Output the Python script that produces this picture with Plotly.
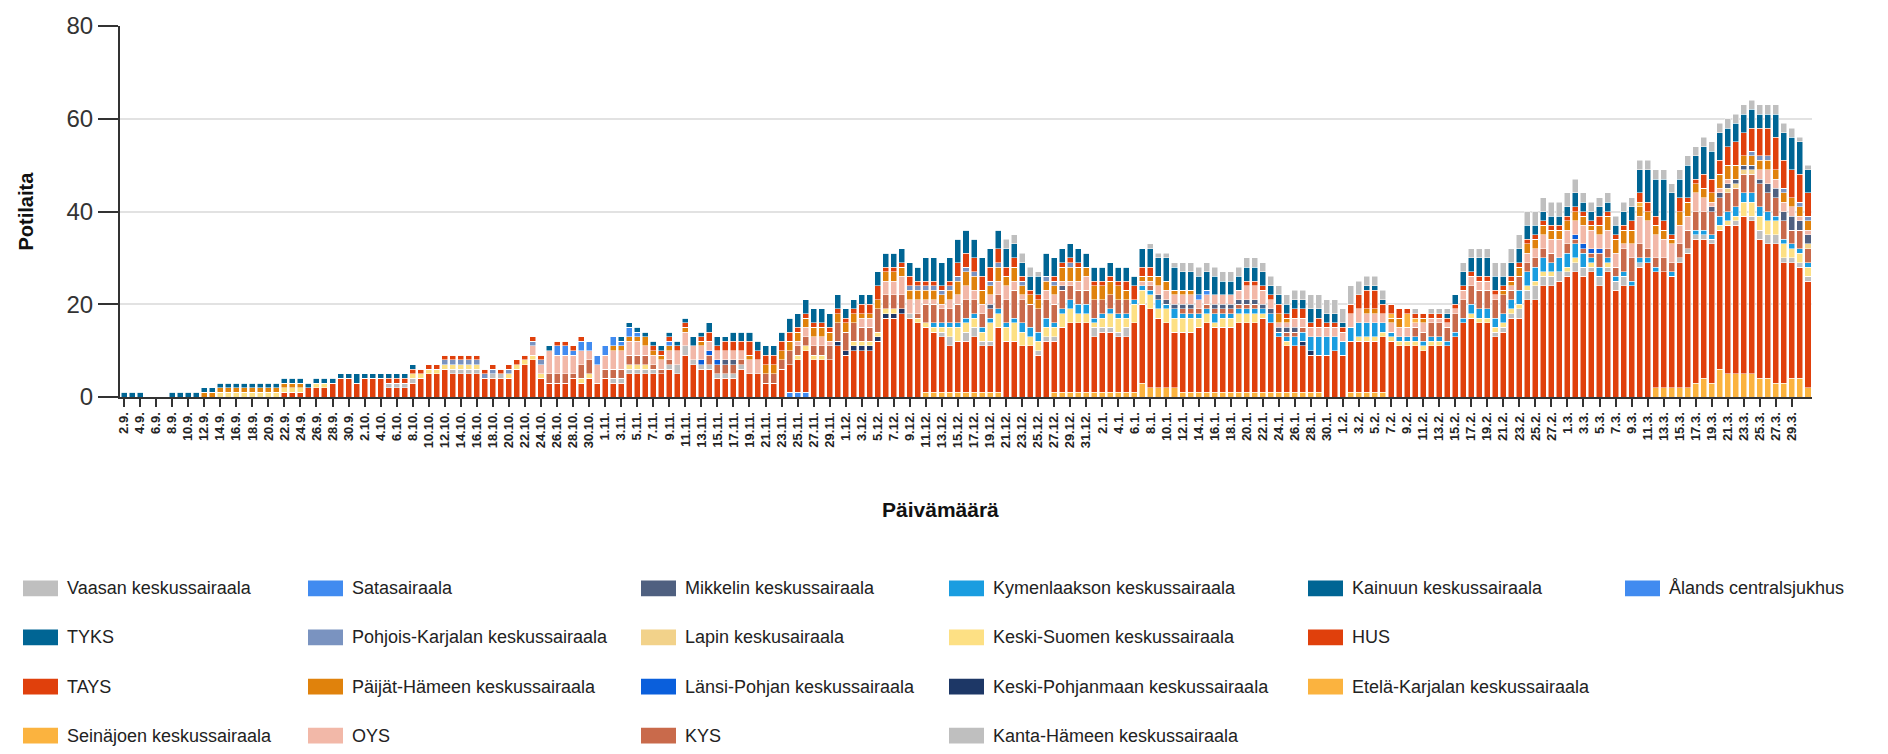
import pandas as pd
import plotly.graph_objects as go

# Daily categories 2.9.2020 - 31.3.2021
dates = pd.date_range("2020-09-02", "2021-03-31", freq="D")
days = [f"{d.day}.{d.month}." for d in dates]

# Patients per hospital per day (rows of ten days)
alands = [
    0,0,0,0,0,0,0,0,0,0, 0,0,0,0,0,0,0,0,0,0, 0,0,0,0,0,0,0,0,0,0,
    0,0,0,0,0,0,0,0,0,0, 0,0,0,0,0,0,0,0,0,0, 0,0,0,0,0,0,0,0,0,0,
    0,0,0,0,0,0,0,0,0,0, 0,0,0,0,0,0,0,0,0,0, 0,0,0,1,1,1,0,0,0,0,
    0,0,0,0,0,0,0,0,0,0, 0,0,0,0,0,0,0,0,0,0, 0,0,0,0,0,0,0,0,0,0,
    0,0,0,0,0,0,0,0,0,0, 0,0,0,0,0,0,0,0,0,0, 0,0,0,0,0,0,0,0,0,0,
    0,0,0,0,0,0,0,0,0,0, 0,0,0,0,0,0,0,0,0,0, 0,0,0,0,0,0,0,0,0,0,
    0,0,0,0,0,0,0,0,0,0, 0,0,0,0,0,0,0,0,0,0, 0,0,0,0,0,0,0,0,0,0,
    0]
etela_karjala = [
    0,0,0,0,0,0,0,0,0,0, 0,0,0,0,0,0,0,0,0,0, 0,0,0,0,0,0,0,0,0,0,
    0,0,0,0,0,0,0,0,0,0, 0,0,0,0,0,0,0,0,0,0, 0,0,0,0,0,0,0,0,0,0,
    0,0,0,0,0,0,0,0,0,0, 0,0,0,0,0,0,0,0,0,0, 0,0,0,0,0,0,0,0,0,0,
    0,0,0,0,0,0,0,0,0,0, 1,1,1,1,1,1,1,1,1,1, 0,0,0,0,0,0,1,1,1,1,
    1,1,1,1,1,1,1,3,2,2, 2,2,1,1,1,1,1,1,1,1, 1,1,1,1,1,1,1,1,1,1,
    0,0,0,1,1,1,1,1,0,0, 0,0,0,0,0,0,0,0,0,0, 0,0,0,0,0,0,0,0,0,0,
    0,0,0,0,0,0,0,0,0,0, 0,2,2,2,2,2,3,4,3,6, 5,5,5,5,4,4,3,3,4,4,
    2]
hus = [
    0,0,0,0,0,0,0,0,0,0, 0,0,0,0,0,0,0,0,0,0, 1,1,1,2,2,2,3,4,4,3,
    4,4,4,2,2,2,3,4,5,5, 6,5,5,5,5,4,4,4,4,6, 7,8,4,3,3,3,4,3,4,3,
    4,3,3,5,5,5,5,5,6,5, 9,7,6,6,4,4,4,6,5,5, 3,3,6,6,7,9,8,8,8,11,
    9,10,10,10,12,17,17,18,17,16, 14,13,12,10,11,11,12,10,10,14, 12,12,11,11,9,12,11,14,15,15,
    15,12,13,13,12,12,15,17,17,15, 14,12,13,13,14,15,14,14,14,15, 15,15,16,15,12,10,10,10,8,8,
    9,10,9,11,11,11,11,12,12,11, 11,11,10,11,11,11,13,16,17,16, 16,13,14,17,17,21,21,24,24,25,
    26,27,26,27,24,27,23,24,24,28, 29,25,25,24,27,29,31,30,30,30, 32,32,34,33,30,29,30,26,25,24,
    23]
kainuu = [
    0,0,0,0,0,0,0,0,0,0, 0,0,0,0,0,0,0,0,0,0, 0,0,0,0,0,0,0,0,0,0,
    0,0,0,0,0,0,0,0,0,0, 0,0,0,0,0,0,0,0,0,0, 0,0,0,0,0,0,0,0,0,0,
    0,0,0,0,0,0,0,0,0,0, 0,0,0,0,0,0,0,0,0,0, 0,0,0,0,0,0,0,0,0,0,
    0,0,0,0,0,0,0,0,0,0, 0,0,0,0,0,0,0,0,0,0, 0,0,0,0,0,0,0,0,0,0,
    0,0,0,0,0,0,0,0,0,0, 0,0,0,0,0,0,0,0,0,0, 0,0,0,0,0,0,0,0,0,0,
    0,0,0,0,0,0,0,0,0,0, 0,0,0,0,0,0,0,0,0,0, 0,0,0,0,0,0,0,0,0,0,
    0,0,0,0,0,0,0,0,0,0, 0,0,0,0,0,0,0,0,0,0, 0,0,0,0,0,0,0,0,0,0,
    0]
kanta_hame = [
    0,0,0,0,0,0,0,0,0,0, 0,0,0,0,0,0,0,0,0,0, 0,0,0,0,0,0,0,0,0,0,
    0,0,0,1,1,1,1,0,0,0, 0,1,1,1,1,0,1,1,0,0, 0,0,0,0,0,0,0,0,0,0,
    0,1,1,1,1,1,1,0,1,2, 2,1,1,1,1,1,1,1,0,0, 0,0,0,0,0,0,0,0,0,0,
    0,0,0,0,0,0,0,0,1,0, 0,0,1,2,0,2,2,1,1,0, 0,0,0,0,1,1,1,0,0,0,
    0,2,1,1,1,2,0,0,0,0, 0,0,0,0,0,0,0,0,0,0, 0,0,0,0,0,0,0,0,0,0,
    0,0,0,0,0,0,0,0,0,0, 0,0,0,0,0,0,0,0,0,0, 0,1,1,1,2,2,3,2,2,2,
    1,2,2,1,2,1,2,2,0,1, 0,0,0,0,1,1,1,1,1,0, 0,1,0,1,2,2,2,1,1,1,
    1]
keski_pohjanmaa = [
    0,0,0,0,0,0,0,0,0,0, 0,0,0,0,0,0,0,0,0,0, 0,0,0,0,0,0,0,0,0,0,
    0,0,0,0,0,0,0,0,0,0, 0,0,0,0,0,0,0,0,0,0, 0,0,0,0,0,0,0,0,0,0,
    0,0,0,0,0,0,0,0,0,0, 0,0,0,0,0,0,0,0,0,0, 0,0,0,0,0,0,0,0,0,1,
    1,1,1,1,1,1,1,1,0,0, 0,0,0,0,0,0,0,0,0,0, 0,0,0,0,0,0,0,0,0,0,
    0,0,0,0,0,0,0,0,0,0, 0,0,0,0,0,0,0,0,0,0, 0,0,0,0,0,0,0,1,1,0,
    0,0,0,0,0,0,0,0,0,0, 0,0,0,0,0,0,0,0,0,0, 0,0,0,0,0,0,0,0,0,0,
    0,0,0,0,0,0,0,0,0,0, 0,0,0,0,0,0,0,0,0,0, 0,0,0,0,0,0,0,0,0,0,
    0]
keski_suomi = [
    0,0,0,0,0,0,0,0,0,0, 0,0,1,1,1,1,1,1,1,1, 1,1,1,0,1,1,0,0,0,0,
    0,0,0,0,0,0,1,1,1,1, 1,1,1,1,1,0,0,0,1,1, 1,1,1,0,0,0,0,1,1,0,
    0,0,0,1,1,1,0,0,0,0, 0,0,0,0,0,0,0,0,0,0, 0,0,0,0,1,1,1,1,0,0,
    0,1,1,1,1,1,1,0,0,1, 1,1,1,2,3,2,2,2,4,3, 3,4,3,2,2,2,2,3,3,2,
    2,1,2,3,3,2,4,3,3,2, 3,3,3,3,2,2,1,2,2,2, 2,2,1,0,0,1,0,0,0,0,
    0,0,0,0,1,1,1,1,1,1, 1,1,1,1,1,0,0,0,1,1, 1,1,1,1,1,1,1,1,1,0,
    1,1,0,1,0,1,0,0,0,0, 0,0,0,0,0,0,0,0,0,1, 1,1,3,3,3,3,3,3,2,2,
    2]
kymenlaakso = [
    0,0,0,0,0,0,0,0,0,0, 0,0,0,0,0,0,0,0,0,0, 0,0,0,0,0,0,0,0,0,0,
    0,0,0,0,0,0,0,0,0,0, 0,0,0,0,0,0,0,0,0,0, 0,0,0,0,0,0,0,0,0,0,
    0,0,0,0,0,0,0,0,0,0, 0,0,0,0,0,0,0,0,0,0, 0,0,0,0,0,0,0,0,0,0,
    0,0,0,0,0,0,0,0,0,0, 0,1,1,1,1,1,1,1,1,1, 1,1,2,2,2,2,1,1,2,2,
    2,1,1,1,1,1,1,1,1,2, 1,2,1,1,1,1,2,1,1,1, 1,1,1,2,1,1,2,2,3,4,
    4,3,3,3,3,3,3,2,1,1, 1,1,1,1,1,1,1,1,2,2, 2,2,2,2,3,3,3,3,2,3,
    3,3,3,1,2,1,1,1,1,1, 1,1,0,1,0,0,1,1,1,2, 2,2,2,2,2,2,1,1,1,1,
    1]
kys = [
    0,0,0,0,0,0,0,0,0,0, 0,0,0,0,0,0,0,0,0,0, 0,0,0,0,0,0,0,0,0,0,
    0,0,0,0,0,0,0,0,0,0, 0,0,0,0,0,0,0,0,0,0, 0,0,0,2,2,2,1,3,3,0,
    2,2,2,2,2,2,1,1,1,0, 0,0,0,2,2,2,2,1,0,0, 2,2,2,3,2,2,2,2,3,4,
    4,4,3,3,5,3,3,3,0,1, 4,4,3,3,4,4,3,3,2,3, 5,6,5,5,5,4,4,4,3,3,
    3,4,3,3,3,3,0,0,1,0, 0,0,1,1,1,1,1,1,1,1, 1,1,0,0,0,1,1,1,0,0,
    0,0,0,0,0,0,0,0,0,0, 0,2,2,3,3,3,4,4,4,4, 4,4,4,2,3,2,2,2,2,0,
    2,1,1,1,3,2,2,5,5,3, 2,2,3,2,3,4,4,4,5,4, 4,4,4,4,5,4,4,4,3,4,
    3]
lansi_pohja = [
    0,0,0,0,0,0,0,0,0,0, 0,0,0,0,0,0,0,0,0,0, 0,0,0,0,0,0,0,0,0,0,
    0,0,0,0,0,0,0,0,0,0, 0,0,0,0,0,0,0,0,0,0, 0,0,0,0,0,0,0,0,0,0,
    0,0,0,0,0,0,0,0,0,0, 0,0,1,1,1,0,0,0,0,0, 0,0,0,0,0,0,0,0,0,0,
    0,0,0,0,0,0,0,0,0,0, 0,0,0,0,0,0,0,0,0,0, 0,0,0,0,0,0,0,0,0,0,
    0,0,0,0,0,0,0,0,0,0, 0,0,0,0,0,0,0,0,0,0, 0,0,0,0,0,0,0,0,0,0,
    0,0,0,0,0,0,0,0,0,0, 0,0,0,0,0,0,0,0,0,0, 0,0,0,0,0,0,0,0,0,0,
    0,1,1,1,1,0,0,0,0,0, 0,0,0,0,0,0,0,0,0,0, 0,0,0,0,0,0,0,0,0,0,
    0]
lappi = [
    0,0,0,0,0,0,0,0,0,0, 0,0,0,0,0,0,0,0,0,0, 0,0,0,0,0,0,0,0,0,0,
    0,0,0,0,0,0,0,0,0,0, 0,0,0,0,0,0,0,0,0,0, 0,0,0,0,0,0,0,0,0,0,
    0,0,0,0,0,0,0,0,0,0, 0,0,0,0,0,0,0,0,0,0, 0,0,0,0,0,0,0,0,0,0,
    0,0,0,0,0,0,0,0,0,0, 0,0,0,0,0,0,0,0,0,0, 0,0,0,0,0,0,0,0,0,0,
    0,0,0,0,0,0,0,0,0,0, 0,0,0,0,0,0,0,0,0,0, 0,0,0,0,0,0,0,0,0,0,
    0,0,0,0,0,0,0,0,0,0, 0,0,0,0,0,0,0,0,0,0, 0,0,0,0,0,0,0,0,0,0,
    0,0,0,0,0,0,0,0,0,0, 0,0,0,0,0,0,0,0,0,0, 1,1,1,1,0,0,0,0,0,0,
    1]
mikkeli = [
    0,0,0,0,0,0,0,0,0,0, 0,0,0,0,0,0,0,0,0,0, 0,0,0,0,0,0,0,0,0,0,
    0,0,0,0,0,0,0,0,0,0, 0,0,0,0,0,0,0,0,0,0, 0,0,0,0,0,0,0,0,0,0,
    0,0,0,0,0,0,0,0,0,0, 0,0,0,0,0,1,1,0,0,0, 0,0,0,0,0,0,0,0,0,0,
    0,0,0,0,0,0,0,0,0,0, 0,0,0,0,0,0,0,0,1,0, 0,0,0,0,0,0,0,1,0,0,
    0,0,0,0,0,0,0,0,0,1, 1,1,1,1,0,0,1,1,1,1, 1,1,1,1,1,1,1,0,0,0,
    0,0,0,0,0,0,0,0,0,0, 0,0,0,0,0,0,0,0,0,0, 0,0,0,0,0,0,0,0,0,0,
    0,0,0,0,0,0,0,0,0,0, 0,0,0,0,0,0,0,0,1,1, 1,1,1,1,1,2,2,2,3,2,
    2]
oys = [
    0,0,0,0,0,0,0,0,0,0, 0,0,0,0,0,0,0,0,0,0, 0,0,0,0,0,0,0,0,0,0,
    0,0,0,0,0,0,0,0,0,0, 0,0,0,0,0,0,0,0,0,0, 0,2,2,5,4,4,4,3,2,4,
    3,4,4,3,3,2,2,2,2,3, 3,3,3,2,2,2,2,2,3,3, 0,0,0,0,1,2,2,2,1,0,
    0,0,2,2,0,3,3,4,3,3, 1,1,1,2,2,3,2,2,2,3, 3,2,1,0,0,2,2,1,1,2,
    3,0,0,0,0,0,0,1,1,2, 2,2,2,2,2,2,2,2,2,2, 3,3,3,2,1,1,2,2,2,2,
    2,2,2,3,3,2,2,2,2,2, 2,1,2,1,1,1,1,2,2,2, 2,1,0,1,0,2,2,3,3,4,
    3,3,4,4,3,4,3,1,3,6, 6,5,4,4,4,3,4,3,1,1, 1,0,0,0,2,3,2,2,2,1,
    1]
paijat_hame = [
    0,0,0,0,0,0,0,0,0,0, 1,1,1,1,1,1,1,1,1,1, 1,1,1,0,0,0,0,0,0,0,
    0,0,0,0,0,0,0,0,0,0, 0,0,0,0,0,0,0,0,0,0, 0,0,0,0,0,0,0,0,0,0,
    0,1,1,1,1,2,1,1,1,0, 1,0,1,0,0,0,0,0,1,0, 2,2,2,2,2,2,2,2,2,2,
    2,2,1,1,2,2,2,2,2,2, 2,2,2,2,3,3,3,3,2,3, 2,3,2,2,2,2,2,3,3,3,
    2,3,3,3,3,2,0,1,1,2, 2,1,1,1,0,0,0,0,0,0, 0,0,0,0,2,1,0,0,0,0,
    0,0,0,0,0,1,1,0,1,2, 0,0,1,0,0,0,0,0,0,0, 0,0,1,1,2,2,2,2,2,2,
    2,2,2,1,2,3,3,3,3,2, 2,2,2,1,3,3,2,2,2,3, 3,3,2,2,2,2,2,2,2,2,
    2]
pohjois_karjala = [
    0,0,0,0,0,0,0,0,0,0, 0,0,0,0,0,0,0,0,0,0, 0,0,0,0,0,0,0,0,0,0,
    0,0,0,0,0,0,0,0,0,0, 1,1,1,1,1,1,1,0,1,0, 0,1,1,0,0,0,0,0,0,0,
    0,0,0,0,0,0,0,0,0,0, 0,0,0,0,0,0,0,0,0,0, 0,0,0,0,0,0,0,0,0,0,
    0,0,0,0,0,0,0,0,1,1, 1,1,1,1,1,1,1,0,1,1, 0,0,1,0,0,1,1,0,1,0,
    0,0,0,0,0,0,0,0,0,0, 0,0,0,0,0,0,0,0,0,0, 0,0,0,0,0,0,0,0,0,0,
    0,0,0,0,0,0,0,0,0,0, 0,0,0,0,0,0,0,0,0,0, 0,0,0,0,0,0,0,0,0,0,
    0,0,0,0,0,0,0,0,0,0, 0,0,0,0,0,0,0,0,0,0, 0,0,0,1,1,1,0,1,0,1,
    1]
satasairaala = [
    0,0,0,0,0,0,0,0,0,0, 0,0,0,0,0,0,0,0,0,0, 0,0,0,0,0,0,0,0,0,0,
    0,0,0,0,0,0,0,0,0,0, 0,0,0,0,0,0,0,0,0,0, 0,0,0,0,2,2,1,2,2,2,
    2,2,1,2,1,0,0,0,1,0, 0,0,0,0,0,0,0,0,0,0, 0,0,0,0,0,0,0,0,0,0,
    0,0,0,0,0,0,0,0,0,0, 0,0,0,0,0,0,0,0,0,0, 0,0,0,0,0,0,0,0,0,0,
    0,0,0,0,0,0,0,0,0,0, 0,0,0,0,1,1,0,0,0,0, 0,0,0,0,0,0,0,0,0,0,
    0,0,0,0,0,0,0,0,0,0, 0,0,0,0,0,0,0,0,0,0, 0,0,0,0,0,0,0,0,0,0,
    0,0,0,0,0,0,0,0,0,0, 0,0,0,0,0,0,0,0,0,0, 0,0,0,0,0,0,0,0,0,0,
    0]
seinajoki = [
    0,0,0,0,0,0,0,0,0,0, 0,0,0,0,0,0,0,0,0,0, 0,0,0,0,0,0,0,0,0,0,
    0,0,0,0,0,0,0,0,0,0, 0,0,0,0,0,0,0,0,0,0, 0,0,0,0,0,0,0,0,0,0,
    0,0,0,0,0,0,0,0,0,0, 0,0,0,0,0,0,0,0,0,0, 0,0,0,0,0,0,0,0,0,0,
    0,0,0,0,0,0,0,0,0,0, 0,0,0,0,0,0,0,0,0,0, 0,0,0,0,0,0,0,0,0,0,
    0,0,0,0,0,0,0,0,0,0, 0,0,0,0,0,0,0,0,0,0, 0,0,0,0,0,0,0,0,0,0,
    0,0,0,0,0,0,0,0,1,0, 3,1,0,0,0,0,0,0,0,0, 0,0,0,0,0,0,0,0,0,0,
    0,0,0,0,0,0,0,0,0,1, 0,0,0,0,0,0,0,0,0,0, 0,0,0,0,0,0,0,0,0,0,
    0]
tays = [
    0,0,0,0,0,0,0,0,0,0, 0,0,0,0,0,0,0,0,0,0, 0,0,0,0,0,0,0,0,0,0,
    0,0,0,1,1,1,1,1,1,1, 1,1,1,1,1,1,1,1,1,1, 1,1,1,0,1,1,1,1,0,0,
    0,0,0,0,0,0,1,1,1,1, 1,0,1,2,1,2,2,2,3,2, 2,2,2,2,1,1,1,1,1,1,
    1,1,2,2,3,1,1,1,2,1, 1,1,1,1,3,3,3,3,3,3, 2,2,1,1,1,0,1,1,1,1,
    0,1,1,1,1,2,3,2,2,0, 0,0,0,0,0,0,0,0,0,0, 1,1,1,1,2,1,2,2,1,2,
    1,1,1,2,3,4,4,2,2,2, 1,1,1,1,1,1,1,1,1,1, 1,1,1,1,1,1,1,1,1,1,
    1,1,1,1,2,1,1,1,2,2, 2,2,2,1,3,1,1,3,3,3, 4,5,5,5,6,6,7,6,6,6,
    5]
tyks = [
    1,1,1,0,0,0,1,1,1,1, 1,1,1,1,1,1,1,1,1,1, 1,1,1,1,1,1,1,1,1,2,
    1,1,1,1,1,1,1,0,0,0, 0,0,0,0,0,0,0,0,0,0, 0,0,0,1,0,0,0,0,0,0,
    0,0,1,1,1,1,1,1,1,1, 1,2,1,2,2,1,2,2,2,2, 2,2,2,3,3,3,3,3,3,3,
    2,2,2,2,3,3,3,3,3,3, 5,5,5,5,5,5,4,4,4,4, 4,3,3,3,4,5,4,3,3,3,
    3,3,3,3,3,3,2,4,4,4, 5,5,4,4,4,4,4,3,3,3, 3,3,3,2,2,2,2,2,3,2,
    2,2,1,0,0,1,1,1,0,0, 0,0,0,0,0,1,2,3,3,4, 4,3,2,3,3,3,2,2,2,2,
    2,3,2,2,2,2,2,3,3,5, 7,8,9,9,4,7,5,6,6,6, 4,4,4,4,3,3,5,6,7,7,
    5]
vaasa = [
    0,0,0,0,0,0,0,0,0,0, 0,0,0,0,0,0,0,0,0,0, 0,0,0,0,0,0,0,0,0,0,
    0,0,0,0,0,0,0,0,0,0, 0,0,0,0,0,0,0,0,0,0, 0,0,0,0,0,0,0,0,0,0,
    0,0,0,0,0,0,0,0,0,0, 0,0,0,0,0,0,0,0,0,0, 0,0,0,0,0,0,0,0,0,0,
    0,0,0,0,0,0,0,0,0,0, 0,0,0,0,0,0,0,0,0,0, 2,2,2,2,1,0,0,0,0,0,
    0,0,0,0,0,0,0,0,1,1, 1,1,2,2,2,2,2,2,2,2, 2,2,2,2,2,2,2,2,3,3,
    3,3,3,4,3,2,2,2,0,0, 0,1,0,1,1,1,0,2,2,2, 2,3,3,3,3,3,3,3,3,3,
    3,3,2,2,2,2,2,2,2,2, 2,2,2,2,2,2,2,2,2,2, 2,2,2,2,2,2,2,2,2,1,
    1]

# Stack order, bottom to top: (name, values, colour)
series = [
    ("Ålands centralsjukhus", alands, "#418bf0"),
    ("Etelä-Karjalan keskussairaala", etela_karjala, "#fbb33f"),
    ("HUS", hus, "#e0400c"),
    ("Kainuun keskussairaala", kainuu, "#006594"),
    ("Kanta-Hämeen keskussairaala", kanta_hame, "#bfbfbf"),
    ("Keski-Pohjanmaan keskussairaala", keski_pohjanmaa, "#1d3766"),
    ("Keski-Suomen keskussairaala", keski_suomi, "#fde084"),
    ("Kymenlaakson keskussairaala", kymenlaakso, "#1a9de0"),
    ("KYS", kys, "#c96a4b"),
    ("Länsi-Pohjan keskussairaala", lansi_pohja, "#0a5fdc"),
    ("Lapin keskusairaala", lappi, "#f2d28a"),
    ("Mikkelin keskussairaala", mikkeli, "#4f6080"),
    ("OYS", oys, "#f2b8a8"),
    ("Päijät-Hämeen keskussairaala", paijat_hame, "#e0820c"),
    ("Pohjois-Karjalan keskussairaala", pohjois_karjala, "#7a93c0"),
    ("Satasairaala", satasairaala, "#418bf0"),
    ("Seinäjoen keskussairaala", seinajoki, "#fbb33f"),
    ("TAYS", tays, "#e0400c"),
    ("TYKS", tyks, "#006594"),
    ("Vaasan keskussairaala", vaasa, "#bfbfbf"),
]
for name, vals, _ in series:
    assert len(vals) == len(days), (name, len(vals))

# Legend layout: columns of names
legend_columns = [
    ["Vaasan keskussairaala", "TYKS", "TAYS", "Seinäjoen keskussairaala"],
    ["Satasairaala", "Pohjois-Karjalan keskussairaala", "Päijät-Hämeen keskussairaala", "OYS"],
    ["Mikkelin keskussairaala", "Lapin keskusairaala", "Länsi-Pohjan keskussairaala", "KYS"],
    ["Kymenlaakson keskussairaala", "Keski-Suomen keskussairaala", "Keski-Pohjanmaan keskussairaala",
     "Kanta-Hämeen keskussairaala"],
    ["Kainuun keskussairaala", "HUS", "Etelä-Karjalan keskussairaala"],
    ["Ålands centralsjukhus"],
]
y_ticks = [0, 20, 40, 60, 80]
x_ticks = days[0:209:2]   # every second day, 2.9. ... 29.3.

W, H = 1888, 754
ML, MR, MT, MB = 120, 76, 19, 357
PLOT_W, PLOT_H = W - ML - MR, H - MT - MB


def fx(px):
    return (px - ML) / PLOT_W


def fy(py):
    return (H - MB - py) / PLOT_H


FONT = "Liberation Sans, Arial, sans-serif"

fig = go.Figure()
for name, vals, color in series:
    fig.add_trace(go.Bar(
        x=days, y=vals, name=name,
        marker=dict(color=color, line=dict(color="rgba(255,255,255,0.85)", width=0.6)),
        showlegend=False,
    ))

shapes = []
annotations = []
colour_of = {name: color for name, _, color in series}
col_left = [23, 308, 641, 949, 1308, 1625]
row_mid = [592, 642, 692, 742]
for ci, col in enumerate(legend_columns):
    for ri, name in enumerate(col):
        x0 = col_left[ci]
        yc = row_mid[ri]
        shapes.append(dict(type="rect", xref="paper", yref="paper",
                           x0=fx(x0), x1=fx(x0 + 35), y0=fy(yc + 8), y1=fy(yc - 8),
                           fillcolor=colour_of[name], line=dict(width=0)))
        annotations.append(dict(xref="paper", yref="paper", x=fx(x0 + 42), y=fy(yc),
                                xanchor="left", yanchor="middle", showarrow=False,
                                text=name, font=dict(family=FONT, size=18, color="#222")))

annotations.append(dict(xref="paper", yref="paper", x=fx(25), y=fy(208), textangle=-90,
                        xanchor="center", yanchor="middle", showarrow=False, text="Potilaita",
                        font=dict(family=FONT, size=20, color="#111", weight="bold")))
annotations.append(dict(xref="paper", yref="paper", x=fx(940), y=fy(512),
                        xanchor="center", yanchor="middle", showarrow=False, text="Päivämäärä",
                        font=dict(family=FONT, size=21, color="#111", weight="bold")))

fig.update_layout(
    width=W, height=H,
    margin=dict(l=ML, r=MR, t=MT, b=MB, pad=0),
    barmode="stack", bargap=0.25,
    plot_bgcolor="white", paper_bgcolor="white",
    font=dict(family=FONT, color="#333"),
    shapes=shapes, annotations=annotations,
    xaxis=dict(
        type="category", categoryorder="array", categoryarray=days,
        tickmode="array", tickvals=x_ticks, ticktext=x_ticks, tickangle=-90,
        tickfont=dict(family=FONT, size=13, color="#222", weight="bold"),
        ticks="outside", ticklen=8, tickwidth=2, tickcolor="#333",
        showline=True, linecolor="#333", linewidth=2, showgrid=False,
    ),
    yaxis=dict(
        range=[0, 80], tickmode="array", tickvals=y_ticks,
        tickfont=dict(family=FONT, size=24, color="#333"),
        ticks="outside", ticklen=20, tickwidth=2, tickcolor="#333",
        showline=True, linecolor="#333", linewidth=2,
        showgrid=True, gridcolor="#e2e2e2", gridwidth=2, zeroline=False,
    ),
)

fig.write_html("out.html")
